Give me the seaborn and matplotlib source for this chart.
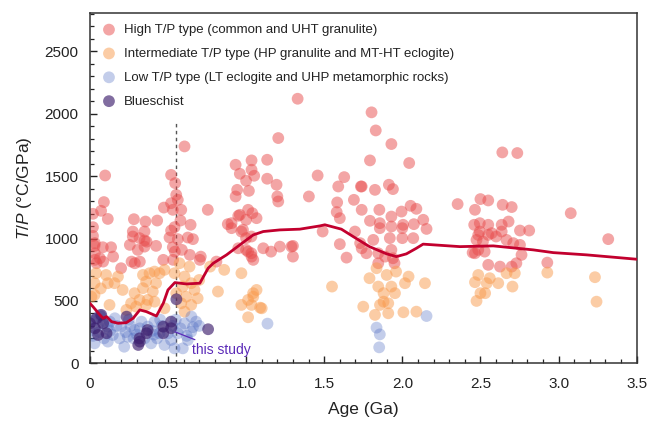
import numpy as np
import pandas as pd
import matplotlib
matplotlib.use("Agg")
import matplotlib.pyplot as plt
from matplotlib.ticker import MultipleLocator
import seaborn as sns

# ---------------- data ----------------
high_age = [0.606, 0.098, 0.52, 0.546, 0.553, 0.563, 0.09, 0.52, 0.474, 0.531, 0.585, 0.755, 0.072, 0.02,
            0.115, 0.282, 0.356, 0.431, 0.58, 0.645, 0.883, 0.02, 0.542, 0.275, 0.35, 0.52, 0.02, 0.275,
            0.318, 0.35, 0.51, 0.563, 0.627, 0.66, 0.03, 0.083, 0.136, 0.307, 0.35, 0.424, 0.531, 0.589,
            0.032, 0.256, 0.363, 0.032, 0.064, 0.149, 0.032, 0.043, 0.085, 0.2, 0.267, 0.32, 0.288, 0.47,
            0.533, 0.544, 0.64, 0.704, 0.81, 0.96, 1.013, 1.0, 1.067, 0.98, 1.034, 1.0, 1.034, 1.046,
            1.11, 1.16, 1.216, 1.29, 1.3, 1.49, 1.33, 1.206, 0.933, 1.035, 1.135, 0.96, 1.035, 1.052,
            1.0, 1.135, 1.195, 1.458, 1.628, 1.59, 1.735, 0.943, 1.018, 0.933, 1.2, 1.206, 1.402, 1.583,
            1.69, 1.74, 1.04, 0.95, 1.58, 1.6, 0.907, 0.907, 0.97, 1.0, 0.95, 1.013, 1.035, 1.3, 1.6,
            1.643, 1.697, 1.74, 1.803, 1.83, 1.93, 1.793, 2.044, 1.74, 1.825, 1.914, 1.94, 1.853, 1.93,
            1.995, 2.053, 2.09, 1.793, 1.856, 2.005, 2.074, 2.134, 2.354, 2.465, 2.5, 2.55, 2.46, 2.55,
            1.856, 1.93, 2.0, 2.155, 1.814, 1.92, 2.0, 2.07, 1.73, 1.77, 1.846, 1.93, 1.89, 1.94, 1.846,
            1.95, 2.486, 2.486, 2.55, 2.6, 2.465, 2.55, 2.64, 2.736, 2.642, 2.7, 3.078, 2.496, 2.636,
            2.68, 2.496, 2.572, 2.636, 2.753, 2.812, 2.475, 2.516, 2.667, 2.71, 2.753, 2.45, 2.527,
            2.763, 2.928, 2.625, 2.73, 2.7, 3.318, 0.71]
high_tp = [1738, 1505, 1510, 1444, 1350, 1310, 1292, 1283, 1248, 1230, 1230, 1230, 1222, 1198,
           1157, 1155, 1136, 1144, 1144, 1110, 1115, 1091, 1091, 1056, 1056, 1064, 1021, 1016,
           1003, 984, 1008, 995, 1008, 995, 941, 930, 930, 909, 935, 941, 930, 909,
           963, 949, 975, 882, 842, 855, 829, 802, 815, 762, 815, 815, 802, 829,
           829, 895, 869, 829, 815, 1190, 1230, 1150, 1163, 1070, 1016, 909, 882, 829,
           922, 895, 935, 935, 855, 1056, 2120, 1805, 1591, 1626, 1631, 1519, 1551, 1503,
           1463, 1479, 1431, 1505, 1492, 1417, 1417, 1390, 1382, 1337, 1337, 1297, 1337, 1289,
           1310, 1230, 1203, 1182, 1212, 1163, 1123, 1083, 1056, 1003, 922, 895, 855, 941, 955,
           847, 1056, 922, 2011, 1866, 1757, 1626, 1605, 1417, 1390, 1431, 1396, 1230, 1176,
           1216, 1262, 1238, 1142, 1123, 1110, 1115, 1150, 1276, 1230, 1316, 1305, 1110, 1110,
           1083, 1096, 1083, 1077, 989, 1003, 1003, 1003, 963, 882, 882, 909, 855, 842, 802,
           802, 1029, 909, 1029, 1016, 882, 789, 1690, 1685, 1270, 1252, 1203, 1123, 1110,
           1136, 1056, 1043, 1056, 1064, 1064, 989, 975, 989, 963, 949, 887, 895,
           869, 807, 775, 802, 775, 995, 855]

inter_age = [0.04, 0.104, 0.18, 0.03, 0.115, 0.158, 0.21, 0.126, 0.03, 0.34, 0.382, 0.414, 0.446, 0.478,
             0.36, 0.424, 0.34, 0.403, 0.286, 0.318, 0.37, 0.414, 0.296, 0.36, 0.264, 0.574, 0.638,
             0.542, 0.606, 0.649, 0.595, 0.67, 0.553, 0.617, 0.69, 0.585, 0.649, 0.478, 0.606, 0.82,
             0.86, 0.7, 0.77, 1.045, 1.067, 0.97, 1.013, 1.1, 1.013, 0.97, 1.046, 1.035, 1.09, 1.55,
             1.835, 1.79, 1.9, 1.96, 2.04, 2.017, 2.145, 1.846, 1.93, 1.88, 1.953, 1.75, 1.857, 1.91,
             1.825, 1.91, 2.007, 2.09, 1.88, 2.486, 2.465, 2.54, 2.5, 2.53, 2.475, 2.928, 2.56, 2.614,
             2.667, 2.72, 2.705, 3.233, 3.243, 0.01, 0.07, 0.234]
inter_tp = [722, 708, 695, 642, 642, 642, 588, 468, 548, 708, 722, 735, 722, 749,
            655, 642, 602, 575, 562, 508, 508, 494, 454, 468, 481, 802, 775,
            722, 695, 642, 615, 588, 562, 534, 521, 481, 468, 441, 414, 575,
            749, 668, 775, 562, 588, 468, 508, 441, 369, 722, 534, 468, 446, 615,
            762, 682, 708, 735, 695, 642, 642, 615, 615, 562, 562, 454, 468, 481,
            388, 401, 409, 414, 494, 708, 650, 642, 562, 562, 500, 727, 682, 642,
            722, 722, 615, 690, 494, 534, 600, 428]

low_age = [0.03, 0.073, 0.115, 0.147, 0.2, 0.243, 0.286, 0.33, 0.37, 0.414, 0.446, 0.478, 0.52, 0.563,
           0.606, 0.649, 0.68, 0.627, 0.22, 0.115, 0.03, 0.392, 0.542, 0.595, 0.65, 0.0, 0.064, 0.128,
           0.16, 0.0, 0.02, 0.05, 0.09, 0.13, 0.17, 0.19, 0.23, 0.26, 0.3, 0.32, 0.35, 0.4, 0.43, 0.46,
           0.5, 0.53, 0.58, 0.62, 0.66, 0.45, 0.25, 0.1, 0.06, 0.28, 0.41, 0.55, 0.7,
           1.137, 2.155, 1.835, 1.856, 1.852]
low_tp = [347, 374, 294, 227, 294, 213, 267, 334, 294, 334, 241, 147, 187, 241,
          320, 254, 334, 187, 133, 174, 160, 160, 120, 120, 374, 347, 388, 334,
          361, 260, 220, 300, 200, 260, 300, 200, 250, 300, 230, 280, 200, 260, 200, 300,
          240, 300, 280, 220, 290, 350, 350, 330, 250, 200, 230, 350, 300,
          318, 379, 286, 232, 128]

blue_age = [0.0, 0.032, 0.053, 0.043, 0.085, 0.107, 0.235, 0.32, 0.31, 0.363, 0.47, 0.47, 0.52, 0.554,
            0.757, 0.073, 0.318, 0.37, 0.52]
blue_tp = [321, 281, 227, 361, 321, 241, 374, 174, 147, 241, 294, 241, 281, 513,
           273, 388, 200, 267, 334]

curve_age = [0.0, 0.02, 0.064, 0.085, 0.107, 0.139, 0.181, 0.234, 0.277, 0.32, 0.362, 0.426, 0.47,
             0.5, 0.544, 0.618, 0.704, 0.757, 0.79, 0.875, 0.96, 1.046, 1.11, 1.216, 1.344, 1.472,
             1.504, 1.61, 1.685, 1.79, 1.9, 1.962, 2.026, 2.09, 2.133, 2.369, 2.582, 2.838, 2.966,
             3.18, 3.5]
curve_tp = [481, 454, 388, 361, 374, 334, 321, 326, 361, 428, 414, 379, 481,
            588, 647, 636, 642, 762, 802, 869, 949, 1029, 1056, 1069, 1075, 1101,
            1110, 1075, 1016, 935, 877, 855, 877, 922, 955, 935, 941, 909, 887,
            869, 834]

labels = ["High T/P type (common and UHT granulite)",
          "Intermediate T/P type (HP granulite and MT-HT eclogite)",
          "Low T/P type (LT eclogite and UHP metamorphic rocks)",
          "Blueschist"]
colors = ["#E84C4C", "#F99A4C", "#4A68C0", "#3D1F6E"]
alphas = [0.5, 0.5, 0.33, 0.65]

study_age = 0.55
note_text = "this study"

# ---------------- plot ----------------
sns.set_theme(style="ticks")
plt.rcParams["font.family"] = ["Liberation Sans", "DejaVu Sans"]
plt.rcParams["mathtext.fontset"] = "custom"
plt.rcParams["mathtext.it"] = "Liberation Sans:italic"
plt.rcParams["mathtext.rm"] = "Liberation Sans"

fig = plt.figure(figsize=(6.51, 4.21), dpi=100)
ax = fig.add_axes([0.138, 0.137, 0.840, 0.833])

groups = [(high_age, high_tp), (inter_age, inter_tp), (low_age, low_tp), (blue_age, blue_tp)]
for (a, t), lab, c, al in zip(groups, labels, colors, alphas):
    df = pd.DataFrame({"age": a, "tp": t})
    sns.scatterplot(data=df, x="age", y="tp", color=c, alpha=al, s=72,
                    edgecolor="none", linewidth=0, label=lab, ax=ax, zorder=2)

ax.axvline(study_age, ymin=0, ymax=1940 / 2810, color="#555555", lw=1.0,
           ls=(0, (2.5, 2.5)), zorder=1)

cdf = pd.DataFrame({"age": curve_age, "tp": curve_tp})
sns.lineplot(data=cdf, x="age", y="tp", color="#C2002E", lw=2.0, ax=ax,
             zorder=4, legend=False)

ax.annotate(note_text, xy=(0.545, 252), xytext=(0.652, 107),
            color="#5B2AB8", fontsize=10, va="center", ha="left",
            arrowprops=dict(arrowstyle="-", color="#5B2AB8", lw=0.9,
                            shrinkA=0, shrinkB=0))

ax.set_xlim(0, 3.5)
ax.set_ylim(0, 2810)
ax.xaxis.set_major_locator(MultipleLocator(0.5))
ax.xaxis.set_minor_locator(MultipleLocator(0.1))
ax.yaxis.set_major_locator(MultipleLocator(500))
ax.yaxis.set_minor_locator(MultipleLocator(100))
ax.set_xticks([0, 0.5, 1.0, 1.5, 2.0, 2.5, 3.0, 3.5])
ax.set_xticklabels(["0", "0.5", "1.0", "1.5", "2.0", "2.5", "3.0", "3.5"])
ax.tick_params(which="major", direction="in", length=5, width=1.0, color="#222222",
               labelsize=11, labelcolor="#222222", top=False, right=False)
ax.tick_params(axis="x", which="major", pad=10)
ax.tick_params(axis="y", which="major", pad=8)
ax.tick_params(which="minor", direction="in", length=3, width=0.9, color="#222222",
               top=False, right=False)
for sp in ax.spines.values():
    sp.set_visible(True)
    sp.set_color("#333333")
    sp.set_linewidth(1.1)

ax.set_xlabel("Age (Ga)", fontsize=12.5, color="#222222", labelpad=8)
ax.set_ylabel(r"$\it{T/P}$ (°C/GPa)", fontsize=12.5, color="#222222", labelpad=8)

handles, labs = ax.get_legend_handles_labels()
leg = ax.legend(handles[:4], labs[:4], loc="upper left", frameon=False, fontsize=9.5,
                handletextpad=0.55, labelspacing=0.88, borderaxespad=0.45,
                handlelength=1.2, markerscale=1.0)
for t in leg.get_texts():
    t.set_color("#222222")

fig.savefig("out.png", dpi=100)
